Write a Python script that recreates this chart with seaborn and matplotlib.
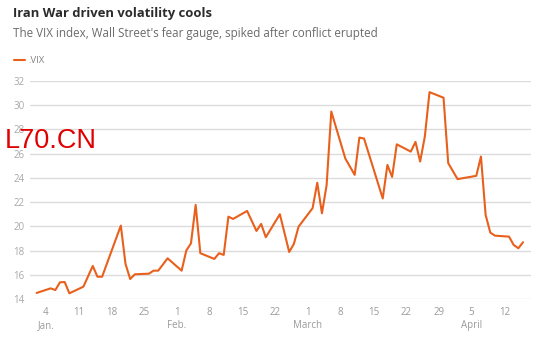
import matplotlib
matplotlib.use("Agg")
import matplotlib.pyplot as plt
import matplotlib.dates as mdates
import pandas as pd
import seaborn as sns

# VIX closing levels, 2026
dates = [
    "2026-01-02", "2026-01-05", "2026-01-06", "2026-01-07", "2026-01-08", "2026-01-09",
    "2026-01-12", "2026-01-14", "2026-01-15", "2026-01-16", "2026-01-20", "2026-01-21",
    "2026-01-22", "2026-01-23", "2026-01-26", "2026-01-27", "2026-01-28", "2026-01-30",
    "2026-02-02", "2026-02-03", "2026-02-04", "2026-02-05", "2026-02-06", "2026-02-09",
    "2026-02-10", "2026-02-11", "2026-02-12", "2026-02-13", "2026-02-16", "2026-02-18",
    "2026-02-19", "2026-02-20", "2026-02-23", "2026-02-25", "2026-02-26", "2026-02-27",
    "2026-03-02", "2026-03-03", "2026-03-04", "2026-03-05", "2026-03-06", "2026-03-09",
    "2026-03-11", "2026-03-12", "2026-03-13", "2026-03-17", "2026-03-18", "2026-03-19",
    "2026-03-20", "2026-03-23", "2026-03-24", "2026-03-25", "2026-03-26", "2026-03-27",
    "2026-03-30", "2026-03-31", "2026-04-02", "2026-04-06", "2026-04-07", "2026-04-08",
    "2026-04-09", "2026-04-10", "2026-04-13", "2026-04-14", "2026-04-15", "2026-04-16",
]
vix = [
    14.50, 14.88, 14.74, 15.38, 15.40, 14.47,
    15.02, 16.73, 15.84, 15.84, 20.06, 16.90,
    15.65, 16.04, 16.09, 16.34, 16.34, 17.36,
    16.34, 18.00, 18.60, 21.77, 17.78, 17.31,
    17.78, 17.64, 20.80, 20.61, 21.27, 19.62,
    20.20, 19.10, 21.00, 17.88, 18.55, 19.97,
    21.50, 23.60, 21.08, 23.40, 29.48, 25.60,
    24.25, 27.33, 27.25, 22.30, 25.07, 24.08,
    26.77, 26.17, 26.97, 25.35, 27.41, 31.08,
    30.62, 25.22, 23.90, 24.17, 25.76, 20.94,
    19.48, 19.23, 19.15, 18.46, 18.19, 18.69,
]

tick_dates = ["2026-01-04", "2026-01-11", "2026-01-18", "2026-01-25", "2026-02-01",
              "2026-02-08", "2026-02-15", "2026-02-22", "2026-03-01", "2026-03-08",
              "2026-03-15", "2026-03-22", "2026-03-29", "2026-04-05", "2026-04-12"]
tick_labels = ["4\nJan.", "11", "18", "25", "1\nFeb.", "8", "15", "22", "1\nMarch",
               "8", "15", "22", "29", "5\nApril", "12"]
y_ticks = [14, 16, 18, 20, 22, 24, 26, 28, 30, 32]

sns.set_theme(style="white")
plt.rcParams["font.family"] = ["Open Sans", "DejaVu Sans"]

W, H = 550, 337
fig = plt.figure(figsize=(W / 100, H / 100), dpi=100)
ax = fig.add_axes([30 / W, 1 - 299 / H, 501 / W, 218 / H])

df = pd.DataFrame({"date": pd.to_datetime(dates), "VIX": vix})
line_color = "#e8601c"
sns.lineplot(data=df, x="date", y="VIX", ax=ax, color=line_color, linewidth=1.5,
             legend=False)

start = pd.Timestamp("2026-01-04")
ax.set_xlim(mdates.date2num(start - pd.Timedelta(days=3.42)),
            mdates.date2num(start + pd.Timedelta(days=103.7)))
ax.set_ylim(14, 32)

ax.set_xticks(mdates.date2num(pd.to_datetime(tick_dates)))
ax.set_xticklabels(tick_labels, fontsize=7.0, color="#9a9a9a", linespacing=1.25)
ax.set_yticks(y_ticks)
ax.set_yticklabels([str(v) for v in y_ticks], fontsize=7.0, color="#a8a8a8")
ax.tick_params(axis="both", length=0)
ax.tick_params(axis="y", pad=4)
ax.tick_params(axis="x", pad=6)
ax.set_xlabel("")
ax.set_ylabel("")

ax.grid(axis="y", color="#dcdcdc", linewidth=1.0)
ax.grid(axis="x", visible=False)
for s in ax.spines.values():
    s.set_visible(False)
ax.set_axisbelow(True)

def fx(px):
    return px / W

def fy(py):
    return 1 - py / H

fig.text(fx(13), fy(16.7), "Iran War driven volatility cools", fontsize=9.4,
         fontweight="bold", color="#2b2b2b", va="baseline")
fig.text(fx(13), fy(36.7), "The VIX index, Wall Street's fear gauge, spiked after conflict erupted",
         fontsize=8.35, color="#6b6b6b", va="baseline")
fig.add_artist(plt.Line2D([fx(14), fx(25)], [fy(60), fy(60)], color=line_color,
                          linewidth=1.5, transform=fig.transFigure))
fig.text(fx(28), fy(62.7), ".VIX", fontsize=6.8, color="#808080", va="baseline")

fig.text(fx(5), fy(148), "L70.CN", fontsize=19.5, color="#e00000",
         family=["Liberation Sans", "DejaVu Sans"], va="baseline")

fig.savefig("out.png", dpi=100)
